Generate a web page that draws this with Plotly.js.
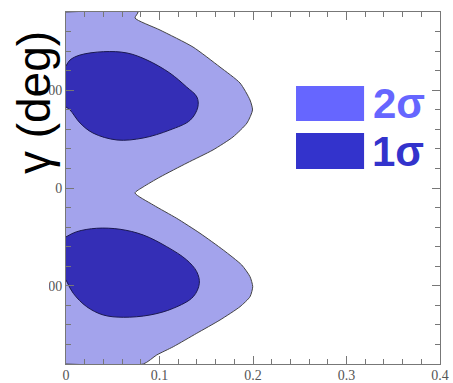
<!DOCTYPE html>
<html>
<head>
<meta charset="utf-8">
<script src="https://cdn.plot.ly/plotly-3.0.1.min.js"></script>
<style>html,body{margin:0;padding:0;background:#fff;}#chart{width:453px;height:383px;}</style>
</head>
<body>
<div id="chart"></div>
<script>
// 2-sigma allowed region boundary (x = |r|-like parameter, y = gamma in degrees)
const twoSigmaX = [0, 0.077, 0.0738, 0.1005, 0.1358, 0.1647, 0.1861, 0.1968, 0.1995, 0.1936, 0.1786, 0.1572, 0.1294, 0.1005, 0.0824, 0.0738, 0.0934, 0.1184, 0.1433, 0.1682, 0.1879, 0.1968, 0.1997, 0.1968, 0.1861, 0.1647, 0.1398, 0.1148, 0.0970, 0.0827, 0];
const twoSigmaY = [180, 180, 173.9, 161.6, 144.2, 123.7, 107.4, 90, 79.8, 66.5, 52.2, 38.9, 25.6, 11.2, 1.0, -5.1, -17.4, -31, -46.3, -63.4, -78.7, -90.7, -100.9, -111.2, -121.4, -135, -148.6, -162.3, -170.8, -180, -180];

// 1-sigma regions
const oneSigmaUpperX = [0, 0.0043, 0.015, 0.0399, 0.0652, 0.0866, 0.111, 0.129, 0.140, 0.141, 0.133, 0.111, 0.0824, 0.0545, 0.0289, 0.015, 0.0043, 0];
const oneSigmaUpperY = [124.8, 130.9, 136, 139.4, 138.1, 130.9, 117.6, 103.3, 93.1, 82.8, 69.5, 59.3, 51.1, 49.1, 56.2, 66.5, 79.8, 82.8];
const oneSigmaLowerX = [0, 0.0114, 0.0328, 0.0578, 0.0827, 0.1077, 0.1291, 0.1398, 0.1426, 0.1361, 0.1148, 0.0898, 0.0613, 0.0399, 0.0221, 0.0078, 0];
const oneSigmaLowerY = [-50, -44.7, -41.2, -42.2, -48.1, -60, -73.6, -85.6, -97.5, -111.2, -123, -129.9, -132.2, -129.9, -121.4, -107.7, -94];

const xTickVals = [0, 0.1, 0.2, 0.3, 0.4];
const xTickText = ["0", "0.1", "0.2", "0.3", "0.4"];
const yTickVals = [-100, 0, 100];
const yTickText = ["-100", "0", "100"];
const legendLabels = ["2σ", "1σ"];

const lightFill = "rgb(163,163,236)";
const darkFill = "rgb(52,46,182)";

const traces = [
  {x: twoSigmaX, y: twoSigmaY, type: "scatter", mode: "lines", fill: "toself",
   fillcolor: lightFill, line: {color: "#444", width: 1, shape: "spline", smoothing: 0.6}, hoverinfo: "skip"},
  {x: oneSigmaUpperX, y: oneSigmaUpperY, type: "scatter", mode: "lines", fill: "toself",
   fillcolor: darkFill, line: {color: "#1a1850", width: 1, shape: "spline", smoothing: 1}, hoverinfo: "skip"},
  {x: oneSigmaLowerX, y: oneSigmaLowerY, type: "scatter", mode: "lines", fill: "toself",
   fillcolor: darkFill, line: {color: "#1a1850", width: 1, shape: "spline", smoothing: 1}, hoverinfo: "skip"}
];

const tickFont = {family: "Liberation Serif, serif", size: 14, color: "#555"};

const layout = {
  width: 453, height: 383,
  margin: {l: 66, r: 13, t: 12, b: 19, pad: 0},
  paper_bgcolor: "#fff", plot_bgcolor: "#fff",
  showlegend: false,
  xaxis: {range: [0, 0.4], tickvals: xTickVals, ticktext: xTickText, ticks: "inside", ticklen: 8,
          tickcolor: "#777", showline: true, linecolor: "#777", linewidth: 1, mirror: "ticks",
          showgrid: false, zeroline: false, tickfont: tickFont, ticklabelstandoff: -2,
          minor: {dtick: 0.02, ticks: "inside", ticklen: 5, tickcolor: "#777", showgrid: false}},
  yaxis: {range: [-180, 180], tickvals: yTickVals, ticktext: yTickText, ticks: "inside", ticklen: 8,
          tickcolor: "#777", showline: true, linecolor: "#777", linewidth: 1, mirror: "ticks",
          showgrid: false, zeroline: false, tickfont: tickFont,
          minor: {tick0: 0, dtick: 20, ticks: "inside", ticklen: 5, tickcolor: "#777", showgrid: false}},
  shapes: [
    {type: "rect", xref: "paper", yref: "paper", x0: -0.2, x1: -0.0455, y0: 0, y1: 1.05,
     fillcolor: "#fff", line: {width: 0}, layer: "above"},
    {type: "rect", xref: "paper", yref: "paper", x0: 0.615, x1: 0.797, y0: 0.690, y1: 0.790,
     fillcolor: "#6666ff", line: {width: 0}, layer: "above"},
    {type: "rect", xref: "paper", yref: "paper", x0: 0.615, x1: 0.797, y0: 0.554, y1: 0.656,
     fillcolor: "#3333cc", line: {width: 0}, layer: "above"}
  ],
  annotations: [
    {text: "γ (deg)", xref: "paper", yref: "paper", x: -0.0856, y: 0.744, xanchor: "center", yanchor: "middle",
     textangle: -90, showarrow: false, font: {family: "Liberation Sans, Arial, sans-serif", size: 46, color: "#000"}},
    {text: "<b>" + legendLabels[0] + "</b>", xref: "paper", yref: "paper", x: 0.815, y: 0.739, xanchor: "left", yanchor: "middle",
     showarrow: false, font: {family: "Liberation Sans, Arial, sans-serif", size: 42, color: "#6666ff"}},
    {text: "<b>" + legendLabels[1] + "</b>", xref: "paper", yref: "paper", x: 0.812, y: 0.604, xanchor: "left", yanchor: "middle",
     showarrow: false, font: {family: "Liberation Sans, Arial, sans-serif", size: 42, color: "#3333cc"}}
  ]
};

Plotly.newPlot("chart", traces, layout, {staticPlot: true, displayModeBar: false});
</script>
</body>
</html>
